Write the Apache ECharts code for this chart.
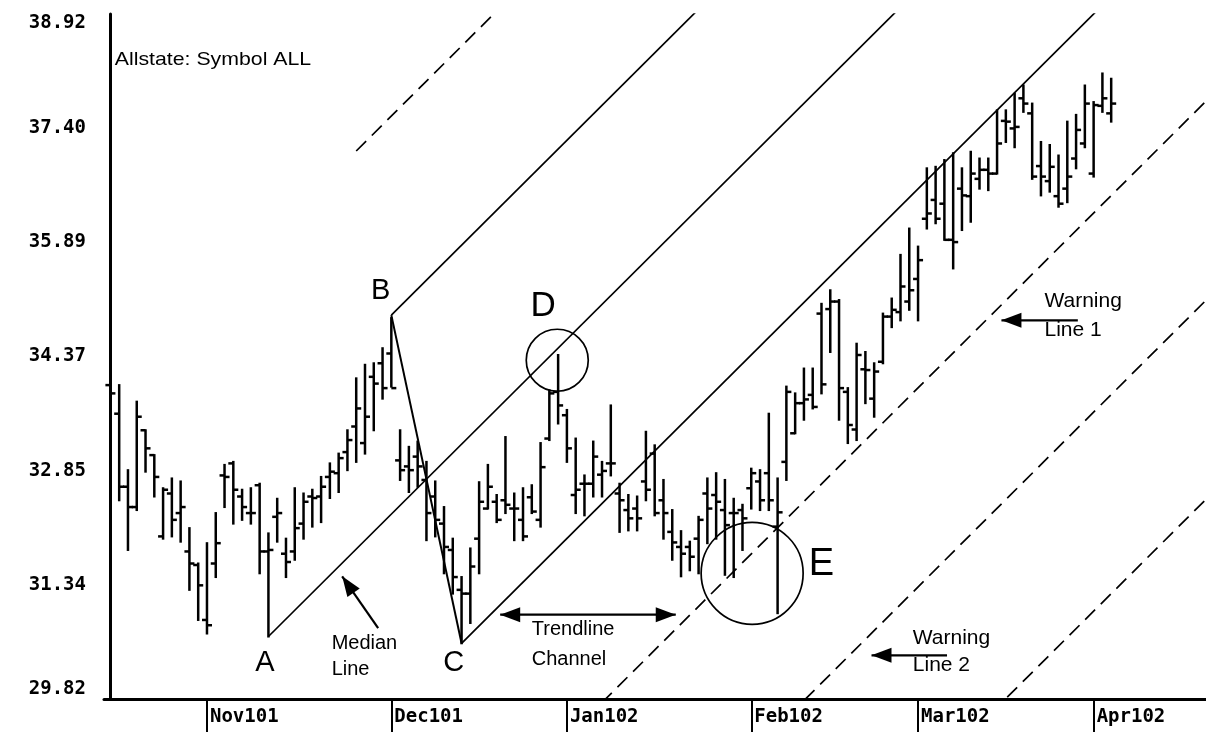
<!DOCTYPE html>
<html>
<head>
<meta charset="utf-8">
<script src="https://cdn.jsdelivr.net/npm/echarts@6/dist/echarts.min.js"></script>
<style>
html,body{margin:0;padding:0;background:#fff;}
#chart{width:1206px;height:733px;}
</style>
</head>
<body>
<div id="chart"></div>
<script>
// ---- data (daily bars, index 0 = 17 Oct 2001) ----
const opens = [33.99,33.61,32.64,32.37,33.39,33.06,31.98,32.55,32.29,31.78,31.60,30.87,31.62,32.79,32.95,32.51,32.29,32.66,31.78,32.24,31.75,31.78,
32.15,32.51,32.51,32.77,32.82,33.10,33.44,33.22,34.10,34.28,34.41,32.99,32.91,33.04,32.73,32.51,32.15,31.80,31.27,31.22,
31.95,32.35,32.44,32.46,32.35,32.20,32.50,32.20,33.28,33.90,33.59,32.53,32.68,32.68,32.80,32.95,32.55,32.33,32.35,32.71,33.08,32.46,
32.04,31.84,31.84,31.95,32.55,32.53,32.33,32.29,32.33,32.62,32.71,32.82,32.11,32.97,33.35,33.75,33.86,34.94,35.00,35.10,33.90,33.40,
34.20,33.81,34.30,34.90,34.96,35.10,35.40,36.20,36.45,36.40,35.92,36.60,36.50,36.73,36.85,36.80,37.50,37.40,37.80,37.60,36.90,36.70,36.50,36.60,37.00,37.20,36.80,37.70,37.60];
const highs = [34.10,33.99,32.86,33.77,33.39,33.06,32.62,32.75,32.71,32.09,31.62,31.89,32.29,32.93,32.97,32.60,32.62,32.68,32.02,32.48,31.95,32.62,
32.55,32.60,32.77,32.95,33.08,33.39,34.08,34.26,34.28,34.48,34.88,33.39,33.17,33.24,32.97,32.71,32.37,31.95,31.44,31.82,
32.70,32.93,32.53,33.30,32.55,32.62,32.66,33.22,33.92,34.39,33.66,33.28,32.79,33.24,32.97,33.72,32.68,32.53,32.51,33.37,33.19,32.73,
32.33,32.05,31.91,32.24,32.75,32.82,32.73,32.48,32.40,32.88,32.86,33.61,32.75,33.97,33.88,34.21,34.21,35.07,35.25,35.12,33.95,34.54,
34.43,34.28,34.94,35.14,35.72,36.07,35.83,36.87,36.89,36.98,37.07,36.87,37.09,37.00,37.00,37.64,37.64,37.86,37.97,37.73,37.22,37.18,37.04,37.49,37.58,37.97,37.75,38.13,38.06];
const lows = [33.15,32.46,31.80,32.33,32.84,32.51,31.95,31.98,31.91,31.27,30.87,30.69,31.44,32.37,32.15,32.20,32.15,31.49,30.65,31.91,31.44,31.67,
31.95,32.11,32.17,32.49,32.57,32.86,32.97,33.08,33.39,33.81,33.97,32.73,32.57,32.64,31.93,31.98,31.49,31.22,30.56,30.83,
31.49,32.35,32.17,32.29,31.93,31.93,32.29,32.11,33.26,33.48,32.97,32.29,32.26,32.51,32.51,32.79,32.04,32.06,32.06,32.46,32.26,31.95,
31.67,31.45,31.53,31.49,31.89,31.95,31.47,31.44,31.80,32.35,32.33,32.33,30.96,32.73,33.35,33.53,33.68,33.88,34.43,33.53,33.22,33.26,
33.75,33.57,34.28,34.76,34.85,34.99,34.85,36.07,36.14,35.92,35.54,36.05,36.16,36.60,36.58,36.80,37.22,37.15,37.62,36.73,36.51,36.56,36.36,36.42,36.87,37.15,36.76,37.62,37.49];
const closes = [33.88,32.64,32.37,33.57,33.15,32.77,32.60,32.20,32.37,31.62,31.33,30.80,31.89,32.77,32.60,32.37,32.29,31.78,31.80,32.29,31.64,32.09,
32.44,32.49,32.64,32.84,33.02,33.26,33.68,33.57,34.01,33.95,33.95,32.86,32.86,32.91,32.29,32.20,31.84,31.44,31.22,31.58,
32.44,32.64,32.20,32.40,32.35,31.98,32.31,32.90,33.88,33.72,33.15,32.60,32.68,33.04,32.85,32.95,32.46,32.22,32.22,32.60,32.29,32.29,
31.90,31.75,31.71,32.20,32.35,32.44,32.13,32.29,32.22,32.82,32.46,32.46,32.30,33.90,33.75,33.80,33.70,34.00,35.10,33.95,33.46,34.39,
34.19,34.17,34.90,34.99,35.30,35.25,35.65,36.27,36.20,35.92,35.89,36.51,36.80,36.85,36.80,37.20,37.49,37.42,37.73,36.76,36.76,36.89,36.40,36.76,37.38,37.73,37.71,37.80,37.73];

// month tick labels (bar index of first trading day of each month)
const monthIdx = [11, 32, 52, 73, 92, 112];
const monthLabels = ['Nov101', 'Dec101', 'Jan102', 'Feb102', 'Mar102', 'Apr102'];
// price axis tick labels
const priceTicks = [29.82, 31.34, 32.85, 34.37, 35.89, 37.40, 38.92];

// Andrews pitchfork pivots A, B, C
const pivotIdx = [18, 32, 40];
const pivotVal = [30.65, 34.92, 30.56];

// ---- build ----
const barRows = opens.map((o, i) => [i, o, highs[i], lows[i], closes[i]]);

const [iA, iB, iC] = pivotIdx;
const [vA, vB, vC] = pivotVal;
const midI = (iB + iC) / 2, midV = (vB + vC) / 2;
const slope = (midV - vA) / (midI - iA);
const median = i => vA + (i - iA) * slope;
const off = vB - median(iB);
const END = 140;
function pfLine(startI, k, dashed) {
  return {
    type: 'line', silent: true, symbol: 'none', clip: true, animation: false,
    data: [[startI, median(startI) + k * off], [END, median(END) + k * off]],
    lineStyle: { color: '#000', width: 1.7, type: dashed ? [14, 8] : 'solid' }
  };
}

const chart = echarts.init(document.getElementById('chart'), null, { renderer: 'canvas' });
const axisFont = { fontFamily: '"DejaVu Sans Mono", monospace', fontWeight: 'bold', fontSize: 19, color: '#000' };

chart.setOption({
  backgroundColor: '#fff',
  animation: false,
  grid: { left: 104, right: 0, top: 14, bottom: 34 },
  xAxis: {
    type: 'value', min: -0.73, max: 124.8,
    splitLine: { show: false },
    axisLine: { show: true, onZero: false, lineStyle: { color: '#000', width: 3 } },
    axisTick: { show: true, customValues: monthIdx, length: 33, lineStyle: { color: '#000', width: 2 } },
    axisLabel: Object.assign({
      customValues: monthIdx,
      formatter: v => monthLabels[monthIdx.indexOf(Math.round(v))] || '',
      align: 'left', verticalAlign: 'top', margin: 9, padding: [0, 0, 0, 3]
    }, axisFont)
  },
  yAxis: {
    type: 'value', min: 29.82, max: 38.92,
    splitLine: { show: false },
    axisLine: { show: true, lineStyle: { color: '#000', width: 3 } },
    axisTick: { show: false },
    axisLabel: Object.assign({
      customValues: priceTicks,
      formatter: v => v.toFixed(2),
      margin: 18,
      verticalAlignMinLabel: 'bottom',
      verticalAlignMaxLabel: 'top'
    }, axisFont)
  },
  series: [
    {
      type: 'custom', clip: true, silent: true,
      data: barRows,
      encode: { x: 0, y: [1, 2, 3, 4] },
      renderItem: function (params, api) {
        const x = api.value(0);
        const pO = api.coord([x, api.value(1)]);
        const pH = api.coord([x, api.value(2)]);
        const pL = api.coord([x, api.value(3)]);
        const pC = api.coord([x, api.value(4)]);
        const st = { stroke: '#000', lineWidth: 2.5 };
        return {
          type: 'group', children: [
            { type: 'line', shape: { x1: pH[0], y1: pH[1] - 1, x2: pL[0], y2: pL[1] + 1 }, style: st },
            { type: 'line', shape: { x1: pO[0] - 5, y1: pO[1], x2: pO[0], y2: pO[1] }, style: st },
            { type: 'line', shape: { x1: pC[0], y1: pC[1], x2: pC[0] + 5, y2: pC[1] }, style: st }
          ]
        };
      }
    },
    // B-C connector
    {
      type: 'line', silent: true, symbol: 'none', clip: true,
      data: [[iB, vB], [iC, vC]],
      lineStyle: { color: '#000', width: 2 }
    },
    pfLine(iA, 0, false),   // median line
    pfLine(iB, 1, false),   // upper parallel
    pfLine(iC, -1, false),  // lower parallel (trendline channel)
    pfLine(28, 2, true),    // upper warning line
    pfLine(40, -2, true),   // warning line 1
    pfLine(40, -3, true),   // warning line 2
    pfLine(40, -4, true),
    pfLine(40, -5, true)
  ]
});

// ---- annotations anchored in data coordinates ----
const P = (i, v) => chart.convertToPixel({ gridIndex: 0 }, [i, v]);
const txtFont = '"Liberation Sans", Arial, sans-serif';
function txt(t, i, v, size, align, sx) {
  const p = P(i, v);
  return { type: 'text', x: p[0], y: p[1], scaleX: sx || 1, silent: true,
    style: { text: t, fill: '#000', font: size + 'px ' + txtFont, align: align || 'left', verticalAlign: 'middle' } };
}
function circ(i, v, r) {
  const p = P(i, v);
  return { type: 'circle', shape: { cx: p[0], cy: p[1], r: r }, silent: true,
    style: { fill: 'none', stroke: '#000', lineWidth: 1.7 } };
}
function arrow(i1, v1, i2, v2, both) {
  const a = P(i1, v1), b = P(i2, v2);
  const els = [{ type: 'line', shape: { x1: a[0], y1: a[1], x2: b[0], y2: b[1] }, silent: true, style: { stroke: '#000', lineWidth: 2.2 } }];
  const head = (h, f) => {
    const ang = Math.atan2(h[1] - f[1], h[0] - f[0]);
    const L = 20, W = 7.5;
    const bx = h[0] - L * Math.cos(ang), by = h[1] - L * Math.sin(ang);
    return { type: 'polygon', silent: true, shape: { points: [[h[0], h[1]], [bx + W * Math.sin(ang), by - W * Math.cos(ang)], [bx - W * Math.sin(ang), by + W * Math.cos(ang)]] }, style: { fill: '#000' } };
  };
  els.push(head(b, a));
  if (both) els.push(head(a, b));
  return els;
}

const g = [].concat(
  [txt('Allstate: Symbol ALL', 0.5, 38.31, 19, 'left', 1.12)],
  [txt('A', 17.6, 30.30, 29, 'center'), txt('B', 30.8, 35.24, 29, 'center'), txt('C', 39.1, 30.30, 29, 'center'),
   txt('D', 49.3, 35.04, 35, 'center'), txt('E', 81.0, 31.61, 38, 'center')],
  [txt('Median', 25.2, 30.56, 20), txt('Line', 25.2, 30.21, 20)],
  [txt('Trendline', 48.0, 30.75, 20), txt('Channel', 48.0, 30.35, 20)],
  [txt('Warning', 106.4, 35.11, 21), txt('Line 1', 106.4, 34.72, 21)],
  [txt('Warning', 91.4, 30.63, 21), txt('Line 2', 91.4, 30.27, 21)],
  [circ(50.9, 34.32, 31), circ(73.1, 31.49, 51)],
  arrow(30.5, 30.76, 26.4, 31.45, false),
  arrow(44.4, 30.94, 64.4, 30.94, true),
  arrow(110.2, 34.85, 101.5, 34.85, false),
  arrow(95.3, 30.40, 86.7, 30.40, false)
);
chart.setOption({ graphic: g });
</script>
</body>
</html>
